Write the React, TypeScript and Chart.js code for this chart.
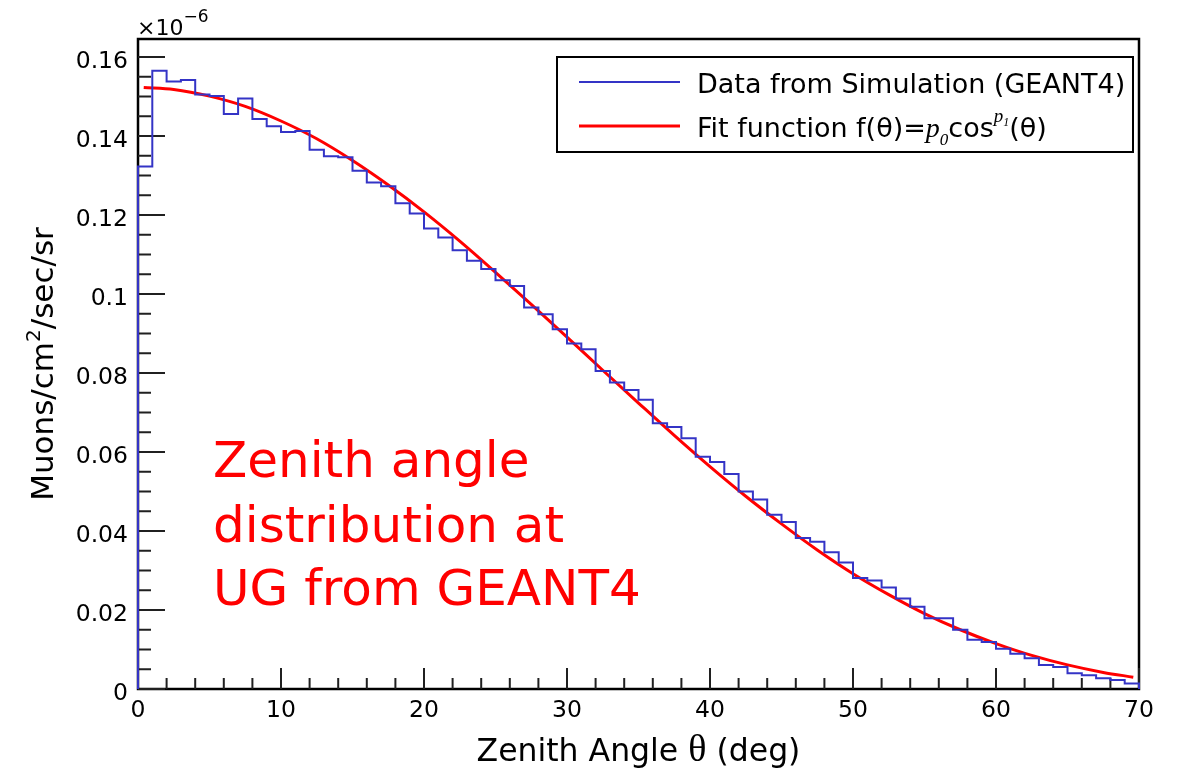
import { useEffect, useRef } from 'react';
import { Chart, registerables } from 'chart.js';

Chart.register(...registerables);

// Simulated muon flux per 1° zenith bin (units of 1e-6 muons/cm²/sec/sr)
const BIN_WIDTH = 1;
const MUON_FLUX = [
  0.1323, 0.1565, 0.1538, 0.1542, 0.1505, 0.1501, 0.1456, 0.1495, 0.1443, 0.1425,
  0.1410, 0.1413, 0.1365, 0.1349, 0.1346, 0.1312, 0.1282, 0.1273, 0.1230, 0.1204,
  0.1166, 0.1143, 0.1111, 0.1084, 0.1063, 0.1035, 0.1020, 0.0966, 0.0949, 0.0911,
  0.0875, 0.0860, 0.0805, 0.0776, 0.0757, 0.0732, 0.0673, 0.0663, 0.0635, 0.0588,
  0.0575, 0.0544, 0.0500, 0.0480, 0.0441, 0.0423, 0.0382, 0.0373, 0.0346, 0.0320,
  0.0281, 0.0275, 0.0257, 0.0229, 0.0208, 0.0179, 0.0179, 0.0150, 0.0125, 0.0119,
  0.0102, 0.0089, 0.0078, 0.0061, 0.0056, 0.0040, 0.0035, 0.0027, 0.0023, 0.0014,
];

// Fitted curve f(θ) = p0·cos^p1(θ), sampled along the zenith range
const FIT_THETA = [
  0.4, 2.5, 5, 7.5, 10, 12.5, 15, 17.5, 20, 22.5, 25, 27.5, 30, 32.5, 35,
  37.5, 40, 42.5, 45, 47.5, 50, 52.5, 55, 57.5, 60, 62.5, 65, 67.5, 69.6,
];
const FIT_FLUX = [
  0.1523, 0.1518, 0.1501, 0.1475, 0.1438, 0.1393, 0.1338, 0.1276, 0.1208, 0.1134,
  0.1055, 0.0974, 0.0891, 0.0807, 0.0724, 0.0642, 0.0563, 0.0488, 0.0418, 0.0352,
  0.0292, 0.0239, 0.0191, 0.0150, 0.0115, 0.0085, 0.0061, 0.0042, 0.0030,
];

const X_MIN = 0;
const X_MAX = 70;
const Y_MIN = 0;
const Y_MAX = 0.16456;

const X_TICKS = [0, 10, 20, 30, 40, 50, 60, 70];
const X_TICK_LABELS = ['0', '10', '20', '30', '40', '50', '60', '70'];
const X_MINOR_DIVISIONS = 5;
const Y_TICKS = [0, 0.02, 0.04, 0.06, 0.08, 0.1, 0.12, 0.14, 0.16];
const Y_TICK_LABELS = ['0', '0.02', '0.04', '0.06', '0.08', '0.1', '0.12', '0.14', '0.16'];
const Y_MINOR_DIVISIONS = 4;

const SERIES_LABELS = ['Data from Simulation (GEANT4)', 'Fit function '];
const NOTE_LINES = ['Zenith angle', 'distribution at', 'UG from GEANT4'];

const BLUE = 'rgb(52,52,198)';
const RED = '#ff0000';
const SANS = '"DejaVu Sans"';
const SERIF = '"Liberation Serif"';

type Run = { t: string; font: string; dy?: number };

function runsWidth(ctx: CanvasRenderingContext2D, runs: Run[]) {
  let w = 0;
  for (const r of runs) {
    ctx.font = r.font;
    w += ctx.measureText(r.t).width;
  }
  return w;
}

function drawRuns(
  ctx: CanvasRenderingContext2D,
  runs: Run[],
  x: number,
  y: number,
  align: 'left' | 'center' = 'left',
) {
  let cx = align === 'center' ? x - runsWidth(ctx, runs) / 2 : x;
  ctx.textAlign = 'left';
  ctx.textBaseline = 'alphabetic';
  for (const r of runs) {
    ctx.font = r.font;
    ctx.fillText(r.t, cx, y + (r.dy || 0));
    cx += ctx.measureText(r.t).width;
  }
}

// Frame with inward ticks, drawn beneath the histogram
const frameAndTicks = {
  id: 'frameAndTicks',
  beforeDatasetsDraw(chart: any) {
    const { ctx, chartArea: a, scales } = chart;
    const xs = scales.x;
    const ys = scales.y;
    ctx.save();
    ctx.strokeStyle = '#000';
    ctx.lineWidth = 2.5;
    ctx.strokeRect(a.left, a.top, a.right - a.left, a.bottom - a.top);

    ctx.lineWidth = 2;
    ctx.strokeStyle = '#202020';
    ctx.beginPath();
    const xStep = (X_TICKS[1] - X_TICKS[0]) / X_MINOR_DIVISIONS;
    for (let k = 0; X_MIN + k * xStep <= X_MAX + 1e-9; k++) {
      const px = xs.getPixelForValue(X_MIN + k * xStep);
      const len = k % X_MINOR_DIVISIONS === 0 ? 21 : 11;
      ctx.moveTo(px, a.bottom);
      ctx.lineTo(px, a.bottom - len);
    }
    const yStep = (Y_TICKS[1] - Y_TICKS[0]) / Y_MINOR_DIVISIONS;
    for (let k = 0; Y_MIN + k * yStep <= Y_MAX + 1e-9; k++) {
      const py = ys.getPixelForValue(Y_MIN + k * yStep);
      const len = k % Y_MINOR_DIVISIONS === 0 ? 27 : 13;
      ctx.moveTo(a.left, py);
      ctx.lineTo(a.left + len, py);
    }
    ctx.stroke();
    ctx.restore();
  },
};

// Tick labels, axis titles, legend box and annotation
const labelsAndLegend = {
  id: 'labelsAndLegend',
  afterDraw(chart: any) {
    const { ctx, chartArea: a, scales } = chart;
    const xs = scales.x;
    const ys = scales.y;
    ctx.save();
    ctx.fillStyle = '#000';

    // tick labels
    ctx.font = `23.5px ${SANS}`;
    ctx.textBaseline = 'alphabetic';
    ctx.textAlign = 'right';
    Y_TICKS.forEach((v, i) => {
      ctx.fillText(Y_TICK_LABELS[i], a.left - 10, ys.getPixelForValue(v) + 11);
    });
    ctx.textAlign = 'center';
    X_TICKS.forEach((v, i) => {
      ctx.fillText(X_TICK_LABELS[i], xs.getPixelForValue(v), a.bottom + 28);
    });

    // exponent of the y axis
    drawRuns(
      ctx,
      [
        { t: '×10', font: `22px ${SANS}` },
        { t: '−6', font: `17px ${SANS}`, dy: -13 },
      ],
      a.left - 1,
      a.top - 4,
    );

    // x axis title
    drawRuns(
      ctx,
      [
        { t: 'Zenith Angle ', font: `31.5px ${SANS}` },
        { t: 'θ', font: `38px ${SERIF}` },
        { t: ' (deg)', font: `31.5px ${SANS}` },
      ],
      (a.left + a.right) / 2,
      a.bottom + 72,
      'center',
    );

    // y axis title
    ctx.save();
    ctx.translate(53, (a.top + a.bottom) / 2);
    ctx.rotate(-Math.PI / 2);
    drawRuns(
      ctx,
      [
        { t: 'Muons/cm', font: `31px ${SANS}` },
        { t: '2', font: `20px ${SANS}`, dy: -13 },
        { t: '/sec/sr', font: `31px ${SANS}` },
      ],
      0,
      0,
      'center',
    );
    ctx.restore();

    // legend
    const lx0 = 557;
    const ly0 = 57;
    const lx1 = 1133;
    const ly1 = 152;
    ctx.fillStyle = '#fff';
    ctx.fillRect(lx0, ly0, lx1 - lx0, ly1 - ly0);
    ctx.strokeStyle = '#000';
    ctx.lineWidth = 2;
    ctx.strokeRect(lx0, ly0, lx1 - lx0, ly1 - ly0);

    const rows = [82, 126];
    ctx.lineWidth = 2;
    ctx.strokeStyle = BLUE;
    ctx.beginPath();
    ctx.moveTo(579, rows[0]);
    ctx.lineTo(680, rows[0]);
    ctx.stroke();
    ctx.lineWidth = 3;
    ctx.strokeStyle = RED;
    ctx.beginPath();
    ctx.moveTo(579, rows[1]);
    ctx.lineTo(680, rows[1]);
    ctx.stroke();

    ctx.fillStyle = '#000';
    drawRuns(ctx, [{ t: SERIES_LABELS[0], font: `27px ${SANS}` }], 697, rows[0] + 11);
    drawRuns(
      ctx,
      [
        { t: SERIES_LABELS[1] + 'f(θ)=', font: `27px ${SANS}` },
        { t: 'p', font: `italic 28px ${SERIF}` },
        { t: '0', font: `italic 17px ${SERIF}`, dy: 8 },
        { t: 'cos', font: `27px ${SANS}` },
        { t: 'p', font: `italic 19px ${SERIF}`, dy: -15 },
        { t: '1', font: `italic 12px ${SERIF}`, dy: -11 },
        { t: '(θ)', font: `27px ${SANS}` },
      ],
      697,
      rows[1] + 11,
    );

    // annotation
    ctx.fillStyle = RED;
    const noteBase = [477, 542, 605];
    NOTE_LINES.forEach((line, i) => {
      drawRuns(ctx, [{ t: line, font: `50px ${SANS}` }], 213, noteBase[i]);
    });

    ctx.restore();
  },
};

export default function App() {
  const canvasRef = useRef<HTMLCanvasElement>(null);

  useEffect(() => {
    document.body.style.margin = '0';
    // outline of the histogram: up the left edge, across each bin, down the right edge
    const histPoints = [
      { x: X_MIN, y: 0 },
      ...MUON_FLUX.map((v, i) => ({ x: X_MIN + (i + 1) * BIN_WIDTH, y: v })),
      { x: X_MIN + MUON_FLUX.length * BIN_WIDTH, y: 0 },
    ];
    const fitPoints = FIT_THETA.map((t, i) => ({ x: t, y: FIT_FLUX[i] }));

    const chart = new Chart(canvasRef.current as HTMLCanvasElement, {
      type: 'line',
      data: {
        datasets: [
          {
            label: SERIES_LABELS[0],
            data: histPoints,
            stepped: 'after',
            borderColor: BLUE,
            borderWidth: 2,
            pointRadius: 0,
            fill: false,
            clip: false as any,
          },
          {
            label: SERIES_LABELS[1],
            data: fitPoints,
            borderColor: RED,
            borderWidth: 3,
            pointRadius: 0,
            fill: false,
            cubicInterpolationMode: 'monotone',
          },
        ],
      },
      options: {
        animation: false,
        responsive: false,
        devicePixelRatio: 1,
        layout: { padding: { left: 138, right: 44, top: 39, bottom: 84 } },
        scales: {
          x: { type: 'linear', min: X_MIN, max: X_MAX, display: false },
          y: { type: 'linear', min: Y_MIN, max: Y_MAX, display: false },
        },
        plugins: {
          legend: { display: false },
          tooltip: { enabled: false },
        },
      },
      plugins: [frameAndTicks, labelsAndLegend],
    });
    return () => chart.destroy();
  }, []);

  return (
    <div style={{ width: 1183, height: 773, background: '#fff' }}>
      <canvas ref={canvasRef} width={1183} height={773} style={{ display: 'block' }} />
    </div>
  );
}
